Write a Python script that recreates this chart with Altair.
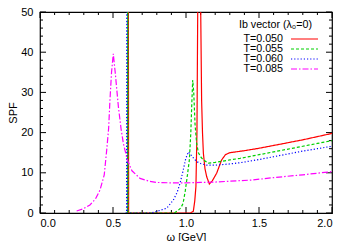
import altair as alt
import pandas as pd

series = ["T=0.050", "T=0.055", "T=0.060", "T=0.085"]
legend_title = "Ib vector (λ₀=0)"
colors = ["#ff0000", "#00d000", "#0000ff", "#ff00ff"]
dashes = [[1, 0], [3, 2], [1.2, 2], [6, 2, 1.5, 2]]

w_red = [0.590, 0.603, 0.605, 0.607, 1.030, 1.050, 1.060, 1.068, 1.075, 1.082, 1.098, 1.107, 1.113, 1.119,
         1.130, 1.142, 1.160, 1.180, 1.210, 1.244, 1.270, 1.300, 1.400, 1.500, 1.600, 1.700, 1.800, 1.900, 2.000]
s_red = [0.0, 0.0, 60.0, 0.0, 0.0, 0.4, 3.0, 6.6, 20.0, 60.0, 60.0, 28.0, 20.0, 14.9,
         11.0, 9.0, 7.2, 8.0, 9.9, 13.2, 14.5, 15.0, 15.5, 16.1, 16.8, 17.5, 18.2, 19.0, 19.8]

w_green = [0.590, 0.599, 0.601, 0.603, 0.920, 0.945, 0.965, 0.980, 0.995, 1.010, 1.023, 1.033, 1.040, 1.046,
           1.053, 1.062, 1.073, 1.085, 1.100, 1.119, 1.153, 1.200, 1.300, 1.370, 1.500, 1.600, 1.700, 1.800,
           1.900, 2.000]
s_green = [0.0, 0.0, 60.0, 0.0, 0.0, 0.6, 1.3, 2.4, 5.5, 9.5, 13.2, 20.0, 27.5, 33.1,
           30.0, 22.0, 17.3, 15.0, 14.0, 13.2, 12.4, 12.6, 13.2, 13.6, 14.5, 15.2, 15.9, 16.6,
           17.3, 18.0]

w_blue = [0.585, 0.593, 0.595, 0.597, 0.760, 0.800, 0.868, 0.913, 0.940, 0.959, 0.980, 0.998, 1.016,
          1.035, 1.055, 1.073, 1.100, 1.142, 1.200, 1.300, 1.370, 1.500, 1.600, 1.700, 1.800, 1.900, 2.000]
s_blue = [0.0, 0.0, 60.0, 0.0, 0.0, 0.4, 1.2, 3.2, 5.2, 7.4, 10.5, 13.5, 15.2,
          14.4, 13.5, 12.8, 12.3, 11.9, 11.9, 12.2, 12.5, 13.3, 14.0, 14.7, 15.4, 16.0, 16.6]

w_mag = [0.251, 0.300, 0.342, 0.380, 0.411, 0.440, 0.457, 0.470, 0.479, 0.490, 0.502, 0.515, 0.537,
         0.555, 0.571, 0.598, 0.630, 0.685, 0.750, 0.800, 0.900, 1.000, 1.100, 1.200, 1.300, 1.450,
         1.600, 1.800, 2.000]
s_mag = [0.5, 1.1, 2.0, 3.5, 5.7, 9.5, 15.7, 21.0, 28.0, 35.0, 39.6, 35.0, 26.4,
         21.0, 17.3, 13.2, 10.5, 8.6, 7.9, 7.6, 7.5, 7.5, 7.6, 7.7, 7.9, 8.2,
         8.8, 9.5, 10.3]

x_major = [0.0, 0.5, 1.0, 1.5, 2.0]
x_minor = [0.1, 0.2, 0.3, 0.4, 0.6, 0.7, 0.8, 0.9, 1.1, 1.2, 1.3, 1.4, 1.6, 1.7, 1.8, 1.9]
y_major = [0, 10, 20, 30, 40, 50]
y_minor = [2, 4, 6, 8, 12, 14, 16, 18, 22, 24, 26, 28, 32, 34, 36, 38, 42, 44, 46, 48]

W, H = 292, 201
FONT = "Liberation Sans"

rows = []
for name, ws, ss in zip(series, [w_red, w_green, w_blue, w_mag], [s_red, s_green, s_blue, s_mag]):
    for i, (a, b) in enumerate(zip(ws, ss)):
        rows.append({"series": name, "w": a, "spf": b, "i": i})
df = pd.DataFrame(rows)

xscale = alt.Scale(domain=[0, 2], nice=False, zero=False)
yscale = alt.Scale(domain=[0, 50], nice=False)

lines = alt.Chart(df).mark_line(clip=True, strokeWidth=1.2).encode(
    x=alt.X("w:Q", scale=xscale, title="ω [GeV]",
            axis=alt.Axis(values=x_major, format=".1f", ticks=False, domain=False, grid=False,
                          labelPadding=4, titlePadding=3)),
    y=alt.Y("spf:Q", scale=yscale, title="SPF",
            axis=alt.Axis(values=y_major, ticks=False, domain=False, grid=False,
                          labelPadding=7, titlePadding=2)),
    color=alt.Color("series:N", scale=alt.Scale(domain=series, range=colors), legend=None),
    strokeDash=alt.StrokeDash("series:N", scale=alt.Scale(domain=series, range=dashes), legend=None),
    order="i:Q",
)

xt_major = pd.DataFrame({"v": x_major})
xt_minor = pd.DataFrame({"v": x_minor})
yt_major = pd.DataFrame({"v": y_major})
yt_minor = pd.DataFrame({"v": y_minor})


def xticks(d, L):
    bot = alt.Chart(d).mark_rule(color="black", strokeWidth=1).encode(
        x=alt.X("v:Q", scale=xscale), y=alt.value(H), y2=alt.value(H - L))
    top = alt.Chart(d).mark_rule(color="black", strokeWidth=1).encode(
        x=alt.X("v:Q", scale=xscale), y=alt.value(0), y2=alt.value(L))
    return bot + top


def yticks(d, L):
    left = alt.Chart(d).mark_rule(color="black", strokeWidth=1).encode(
        y=alt.Y("v:Q", scale=yscale), x=alt.value(0), x2=alt.value(L))
    right = alt.Chart(d).mark_rule(color="black", strokeWidth=1).encode(
        y=alt.Y("v:Q", scale=yscale), x=alt.value(W), x2=alt.value(W - L))
    return left + right


# hand-built gnuplot-style key (labels left of the line samples)
LEG_FS = 10.7
key_layers = [
    alt.Chart(pd.DataFrame({"t": [legend_title]})).mark_text(
        align="right", baseline="middle", font=FONT, fontSize=LEG_FS, color="black"
    ).encode(text="t:N", x=alt.value(272), y=alt.value(12.5))
]
for k, (name, col, dsh) in enumerate(zip(series, colors, dashes)):
    yk = 27 + 10 * k
    d = pd.DataFrame({"t": [name]})
    key_layers.append(
        alt.Chart(d).mark_text(align="right", baseline="middle", font=FONT, fontSize=LEG_FS,
                               color="black").encode(text="t:N", x=alt.value(243), y=alt.value(yk)))
    key_layers.append(
        alt.Chart(d).mark_rule(color=col, strokeDash=dsh, strokeWidth=1.2).encode(
            x=alt.value(251), x2=alt.value(278), y=alt.value(yk)))

chart = alt.layer(
    xticks(xt_major, 6), xticks(xt_minor, 3), yticks(yt_major, 6), yticks(yt_minor, 3), lines,
    *key_layers
).properties(
    width=W, height=H,
    autosize=alt.AutoSizeParams(type="none"),
    padding={"left": 32, "top": 4, "right": 9, "bottom": 28},
).configure_view(
    stroke="black", strokeWidth=1.2
).configure_axis(
    labelFont=FONT, titleFont=FONT, labelFontSize=11, titleFontSize=11,
    labelColor="black", titleColor="black", titleFontWeight="normal"
)

chart.save("out.html", embed_options={"renderer": "svg", "actions": False})
